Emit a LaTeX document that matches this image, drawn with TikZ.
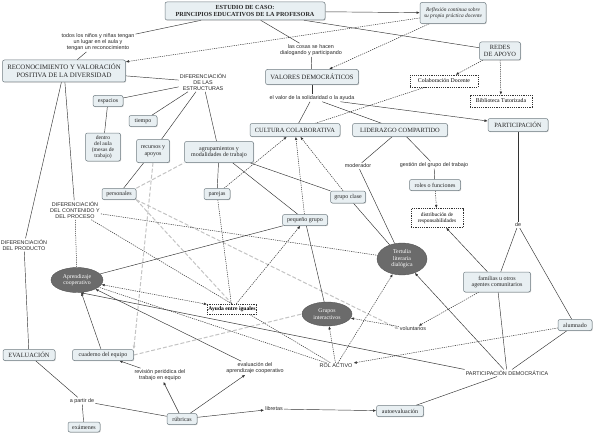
\documentclass[tikz,border=0pt]{standalone}
\usepackage{fontspec}
\setmainfont{Liberation Serif}
\newfontfamily\lblfont{Liberation Sans}
\usetikzlibrary{shapes.geometric,arrows.meta,shadows,backgrounds}
\definecolor{boxfill}{HTML}{E8EFF2}
\definecolor{boxline}{HTML}{6F7C82}
\definecolor{ellfill}{HTML}{6B6B6B}
\definecolor{ln}{HTML}{333333}
\definecolor{gl}{HTML}{C4C4C4}
\begin{document}
\begin{tikzpicture}[x=1pt,y=-1pt,
  box/.style={draw=boxline, fill=boxfill, rounded corners=2pt, align=center, inner sep=1pt,
    font=\fontsize{6}{6.6}\selectfont, text=black!85, line width=0.5pt,
    drop shadow={shadow xshift=0.7pt, shadow yshift=-0.7pt, fill=black!40}},
  dbox/.style={draw=ln, dash pattern=on 1.2pt off 1pt, fill=white, align=center, inner sep=1.2pt,
    font=\fontsize{5.8}{6.4}\selectfont, line width=0.5pt},
  ell/.style={ellipse, draw=ellfill!80!black, fill=ellfill, text=white, align=center, inner sep=0pt,
    font=\fontsize{5.8}{6.6}\selectfont},
  lbl/.style={align=center, inner sep=1pt, font=\lblfont\fontsize{5.4}{6.2}\selectfont, text=black!85},
  con/.style={draw=ln, line width=0.45pt},
  arr/.style={con, -{Latex[length=3.2pt,width=2.6pt]}},
  dcon/.style={draw=ln, line width=0.5pt, dash pattern=on 1.2pt off 1pt},
  darr/.style={dcon, -{Latex[length=3.2pt,width=2.6pt]}},
  gcon/.style={draw=gl, line width=1pt, dash pattern=on 4pt off 2pt},
  garr/.style={gcon, -{Latex[length=3.6pt,width=3.2pt]}}
]
\useasboundingbox (0,0) rectangle (593,433);

% ---------- nodes ----------
\node[box, minimum width=160, minimum height=18, font=\bfseries\fontsize{6.2}{7}\selectfont] (estudio) at (245,11) {ESTUDIO DE CASO:\\PRINCIPIOS EDUCATIVOS DE LA PROFESORA};
\node[box, minimum width=66, minimum height=21, font=\itshape\fontsize{5.4}{6.6}\selectfont] (reflex) at (453,13) {Reflexión continua sobre\\su propia práctica docente};
\node[box, minimum width=41, minimum height=18, font=\fontsize{6.4}{7}\selectfont] (redes) at (500,51) {REDES\\DE APOYO};
\node[dbox, minimum width=68, minimum height=12] (colab) at (444,81) {Colaboración Docente};
\node[dbox, minimum width=62, minimum height=12] (biblio) at (501,101) {Biblioteca Tutorizada};
\node[box, minimum width=60, minimum height=13, font=\fontsize{6.4}{7}\selectfont] (partic) at (518,125) {PARTICIPACIÓN};
\node[box, minimum width=123, minimum height=22, font=\fontsize{6.8}{8}\selectfont] (recon) at (64,71) {RECONOCIMIENTO Y VALORACIÓN\\POSITIVA DE LA DIVERSIDAD};
\node[box, minimum width=93, minimum height=15, font=\fontsize{6.6}{7}\selectfont] (valores) at (312,77) {VALORES DEMOCRÁTICOS};
\node[box, minimum width=30, minimum height=11] (espacios) at (108,101) {espacios};
\node[box, minimum width=28, minimum height=11] (tiempo) at (143,121) {tiempo};
\node[box, minimum width=35, minimum height=28, font=\fontsize{5.6}{6.2}\selectfont] (dentro) at (103,147) {dentro\\del aula\\(mesas de\\trabajo)};
\node[box, minimum width=33, minimum height=23] (recursos) at (153,151) {recursos y\\apoyos};
\node[box, minimum width=69, minimum height=21] (agrup) at (219,152) {agrupamientos y\\modalidades de trabajo};
\node[box, minimum width=90, minimum height=13, font=\fontsize{6.4}{7}\selectfont] (cultura) at (295,130) {CULTURA COLABORATIVA};
\node[box, minimum width=95, minimum height=13, font=\fontsize{6.4}{7}\selectfont] (lider) at (400,130) {LIDERAZGO COMPARTIDO};
\node[box, minimum width=51, minimum height=11] (roles) at (435,185) {roles o funciones};
\node[dbox, minimum width=52, minimum height=19, font=\fontsize{5.4}{6.2}\selectfont] (distrib) at (437,218) {distribución de\\responsabilidades};
\node[box, minimum width=34, minimum height=11] (personales) at (119,194) {personales};
\node[box, minimum width=26, minimum height=11] (parejas) at (217,194) {parejas};
\node[box, minimum width=35, minimum height=12] (grupoclase) at (348,197) {grupo clase};
\node[box, minimum width=45, minimum height=11] (pequeno) at (305,220) {pequeño grupo};
\node[ell, minimum width=52, minimum height=25] (aprend) at (77,280) {Aprendizaje\\cooperativo};
\node[dbox, minimum height=10, font=\bfseries\fontsize{5.6}{6}\selectfont] (ayuda) at (232,309) {Ayuda entre iguales};
\node[ell, minimum width=50, minimum height=32] (tertulia) at (402,259) {Tertulia\\literaria\\dialógica};
\node[ell, minimum width=50, minimum height=24] (grupos) at (327,314) {Grupos\\interactivos};
\node[box, minimum width=67, minimum height=20] (familias) at (497,282) {familias u otros\\agentes comunitarios};
\node[box, minimum width=34, minimum height=11] (alumnado) at (575,325) {alumnado};
\node[box, minimum width=52, minimum height=11, font=\fontsize{6.4}{7}\selectfont] (evaluacion) at (29,355) {EVALUACIÓN};
\node[box, minimum width=61, minimum height=11] (cuaderno) at (103,355) {cuaderno del equipo};
\node[box, minimum width=30, minimum height=11] (rubricas) at (182,419) {rúbricas};
\node[box, minimum width=47, minimum height=11] (autoeval) at (400,411) {autoevaluación};
\node[box, minimum width=32, minimum height=10] (examenes) at (84,427) {exámenes};

% ---------- linking phrases ----------
\node[lbl] (lTodos) at (98,42) {todos los niños y niñas tengan\\un lugar en el aula y\\tengan un reconocimiento};
\node[lbl] (lCosas) at (311,50) {las cosas se hacen\\dialogando y participando};
\node[lbl] (lValor) at (312,98) {el valor de la solidaridad o la ayuda};
\node[lbl] (lDifEst) at (203,82) {DIFERENCIACIÓN\\DE LAS\\ESTRUCTURAS};
\node[lbl] (lModer) at (358,166) {moderador};
\node[lbl] (lGestion) at (434,165) {gestión del grupo del trabajo};
\node[lbl] (lDe) at (518,225) {de};
\node[lbl] (lDifCont) at (75,210) {DIFERENCIACIÓN\\DEL CONTENIDO Y\\DEL PROCESO};
\node[lbl] (lDifProd) at (24,245) {DIFERENCIACIÓN\\DEL PRODUCTO};
\node[lbl] (lVolunt) at (413,329) {voluntarios};
\node[lbl] (lRol) at (336,366) {ROL ACTIVO};
\node[lbl] (lPartDem) at (507,373) {PARTICIPACIÓN DEMOCRÁTICA};
\node[lbl] (lRevision) at (160,375) {revisión periódica del\\trabajo en equipo};
\node[lbl] (lEvalAp) at (255,368) {evaluación del\\aprendizaje cooperativo};
\node[lbl] (lApartir) at (82,401) {a partir de};
\node[lbl] (lLibretas) at (274,409) {libretas};

\begin{scope}[on background layer]
\fill[white] (0,0) rectangle (593,433);
% ---------- light grey dashed links ----------
\draw[garr] (recursos.south) to (cuaderno.north east);
\draw[gcon] (personales.north east) -- (agrup.south west);
\draw[garr] (personales.south east) -- (lVolunt.west);
\draw[gcon] (cuaderno.east) -- (grupos.west);
\draw[gcon] (personales.south east) -- (ayuda.north);

% ---------- solid links ----------
\draw[con] (estudio) -- (lTodos);
\draw[con] (lTodos) -- (recon);
\draw[arr] (estudio) -- (reflex);
\draw[con] (estudio) -- (redes);
\draw[con] (estudio) -- (lCosas);
\draw[con] (lCosas) -- (valores);
\draw[con] (valores) -- (lValor);
\draw[con] (lValor) -- (cultura);
\draw[con] (lValor) -- (lider);
\draw[arr] (lValor) -- (partic);
\draw[con] (recon) -- (lDifEst);
\draw[con] (lDifEst) -- (espacios);
\draw[con] (lDifEst) -- (tiempo);
\draw[con] (lDifEst) -- (recursos);
\draw[con] (lDifEst) -- (agrup);
\draw[con] (espacios) -- (dentro);
\draw[con] (recursos) -- (personales);
\draw[con] (agrup) -- (parejas);
\draw[con] (agrup) -- (pequeno);
\draw[con] (agrup) -- (grupoclase);
\draw[con] (recon) -- (lDifCont);
\draw[con] (recon) -- (lDifProd);
\draw[con] (lDifProd) -- (evaluacion);
\draw[con] (lider) -- (lModer);
\draw[con] (lModer) -- (tertulia);
\draw[con] (lider) -- (lGestion);
\draw[con] (lGestion) -- (roles);
\draw[con] (partic) -- (lDe);
\draw[con] (lDe) -- (familias);
\draw[con] (lDe) -- (alumnado);
\draw[arr] (familias) -- (distrib);
\draw[con] (grupoclase) -- (tertulia);
\draw[con] (pequeno) -- (grupos);
\draw[con] (aprend) -- (pequeno);
\draw[arr] (cuaderno) -- (aprend);
\draw[arr] (lEvalAp) -- (aprend);
\draw[arr] (lPartDem.north west) -- (aprend.-75);
\draw[arr] (lPartDem) -- (tertulia);
\draw[con] (lPartDem) -- (familias);
\draw[con] (lPartDem) -- (alumnado);
\draw[con] (lPartDem) -- (autoeval);
\draw[arr] (rubricas) -- (lEvalAp);
\draw[arr] (rubricas) -- (lRevision);
\draw[arr] (lRevision) -- (cuaderno);
\draw[con] (evaluacion) -- (lApartir);
\draw[con] (lApartir) -- (examenes);
\draw[con] (lApartir) -- (rubricas);
\draw[arr] (rubricas) -- (lLibretas);
\draw[arr] (lLibretas) -- (autoeval);

% ---------- dotted links ----------
\draw[darr] (reflex) -- (recon);
\draw[darr] (reflex) -- (valores);
\draw[darr] (redes) -- (colab);
\draw[darr] (redes) -- (biblio);
\draw[dcon] (colab) -- (cultura);
\draw[darr] (roles) -- (distrib);
\draw[dcon] (lDifCont) -- (aprend);
\draw[dcon] (lDifCont) -- (tertulia);
\draw[dcon] (lDifCont) -- (lRol);
\draw[darr] (familias) -- (lVolunt);
\draw[darr] (lVolunt) -- (grupos);
\draw[darr] (alumnado) -- (lRol);
\draw[darr] (lRol) -- (grupos);
\draw[darr] (lRol) -- (tertulia);
\draw[dcon] (lRol) -- (aprend);
\draw[{Latex[length=3.2pt,width=2.6pt]}-{Latex[length=3.2pt,width=2.6pt]}, dcon] (aprend) -- (ayuda);
\draw[dcon] (parejas) -- (ayuda);
\draw[darr] (ayuda) -- (pequeno);
\draw[darr] (parejas) -- (cultura);
\draw[darr] (pequeno) -- (cultura);
\draw[darr] (grupoclase) -- (cultura);
\end{scope}
\end{tikzpicture}
\end{document}
